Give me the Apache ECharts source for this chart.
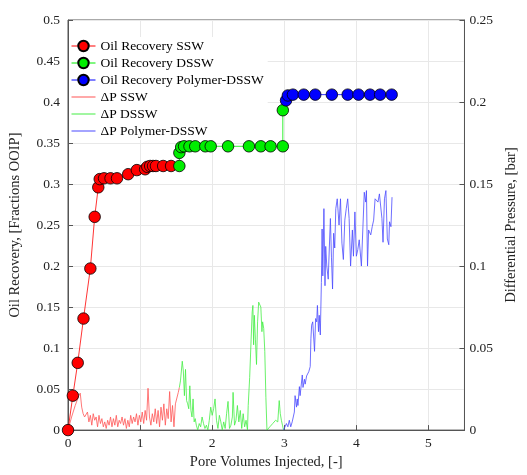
<!DOCTYPE html>
<html>
<head>
<meta charset="utf-8">
<script src="https://cdn.jsdelivr.net/npm/echarts@6/dist/echarts.min.js"></script>
<style>
  html, body { margin: 0; padding: 0; background: #fff; }
  #chart { width: 527px; height: 475px; }
</style>
</head>
<body>
<div id="chart"></div>
<script>
// oil recovery points [PV injected, fraction OOIP]
var recSSW = [[0, 0], [0.067, 0.042], [0.135, 0.082], [0.215, 0.136], [0.31, 0.197], [0.37, 0.26],
  [0.42, 0.296], [0.44, 0.306], [0.50, 0.307], [0.59, 0.307], [0.68, 0.307], [0.835, 0.312],
  [0.955, 0.317], [1.07, 0.318], [1.10, 0.321], [1.14, 0.322], [1.18, 0.322], [1.22, 0.322],
  [1.32, 0.322], [1.43, 0.322]];
var recDSSW = [[1.545, 0.322], [1.545, 0.338], [1.57, 0.345], [1.61, 0.346], [1.685, 0.346],
  [1.765, 0.346], [1.905, 0.346], [1.98, 0.346], [2.22, 0.346], [2.51, 0.346], [2.675, 0.346],
  [2.81, 0.346], [2.98, 0.346], [2.98, 0.39]];
var recPoly = [[3.025, 0.402], [3.05, 0.408], [3.12, 0.409], [3.27, 0.409], [3.43, 0.409],
  [3.66, 0.409], [3.88, 0.409], [4.03, 0.409], [4.19, 0.409], [4.33, 0.409], [4.49, 0.409]];

// differential pressure [PV injected, bar]
var dpSSW = [[0, 0], [0.05, 0.008], [0.10, 0.015], [0.15, 0.021], [0.17, 0.0225], [0.19, 0.014],
  [0.21, 0.010], [0.23, 0.008], [0.25, 0.0075], [0.27, 0.011], [0.29, 0.005], [0.31, 0.009],
  [0.33, 0.003], [0.35, 0.010], [0.37, 0.006], [0.39, 0.008], [0.41, 0.002], [0.43, 0.009],
  [0.45, 0.004], [0.47, 0.007], [0.49, 0.002], [0.51, 0.005], [0.53, 0.001], [0.55, 0.006],
  [0.57, 0.003], [0.59, 0.008], [0.61, 0.002], [0.63, 0.007], [0.65, 0.003], [0.67, 0.009],
  [0.69, 0.002], [0.71, 0.006], [0.73, 0.004], [0.75, 0.008], [0.77, 0.003], [0.79, 0.007],
  [0.81, 0.001], [0.83, 0.006], [0.85, 0.002], [0.87, 0.009], [0.89, 0.004], [0.91, 0.008],
  [0.93, 0.005], [0.95, 0.010], [0.97, 0.003], [0.99, 0.009], [1.01, 0.005], [1.03, 0.011],
  [1.05, 0.004], [1.07, 0.012], [1.09, 0.006], [1.11, 0.0255], [1.13, 0.008], [1.15, 0.003],
  [1.17, 0.010], [1.19, 0.005], [1.21, 0.013], [1.23, 0.004], [1.25, 0.012], [1.27, 0.002],
  [1.29, 0.014], [1.31, 0.006], [1.33, 0.016], [1.35, 0.003], [1.37, 0.013], [1.39, 0.007],
  [1.41, 0.0235], [1.43, 0.005], [1.45, 0.015], [1.47, 0.002], [1.49, 0.016], [1.51, 0.017],
  [1.53, 0.023], [1.545, 0.026]];
var dpDSSW = [[1.545, 0.026], [1.56, 0.030], [1.585, 0.042], [1.60, 0.036], [1.615, 0.021],
  [1.63, 0.037], [1.645, 0.018], [1.66, 0.016], [1.675, 0.013], [1.69, 0.027], [1.705, 0.012],
  [1.72, 0.008], [1.735, 0.019], [1.75, 0.005], [1.765, 0.007], [1.78, 0.003], [1.80, 0.000],
  [1.82, 0.004], [1.84, 0.002], [1.86, 0.008], [1.88, 0.004], [1.90, 0.001], [1.92, 0.003],
  [1.94, 0.000], [1.96, 0.006], [1.98, 0.014], [2.00, 0.009], [2.02, 0.013], [2.04, 0.019],
  [2.06, 0.006], [2.08, 0.001], [2.10, 0.009], [2.12, 0.005], [2.14, 0.000], [2.16, 0.005],
  [2.18, 0.001], [2.20, 0.010], [2.22, 0.0175], [2.24, 0.001], [2.26, 0.003], [2.28, 0.008],
  [2.29, 0.023], [2.31, 0.003], [2.33, 0.006], [2.35, 0.015], [2.37, 0.005], [2.39, 0.012],
  [2.41, 0.001], [2.43, 0.010], [2.45, 0.002], [2.47, 0.006], [2.49, 0.000], [2.50, 0.015],
  [2.52, 0.032], [2.54, 0.055], [2.555, 0.072], [2.565, 0.076], [2.575, 0.052], [2.585, 0.070],
  [2.60, 0.055], [2.615, 0.040], [2.63, 0.066], [2.645, 0.078], [2.66, 0.0787], [2.675, 0.075],
  [2.69, 0.060], [2.70, 0.066], [2.715, 0.062], [2.73, 0.048], [2.745, 0.020], [2.76, 0.000],
  [2.80, 0.002], [2.84, 0.004], [2.88, 0.006], [2.91, 0.005], [2.93, 0.018], [2.945, 0.010],
  [2.96, 0.006], [2.975, 0.003], [2.99, 0.000]];
var dpPoly = [[2.99, 0.000], [3.00, 0.001], [3.03, 0.004], [3.05, 0.002], [3.07, 0.006],
  [3.09, 0.002], [3.11, 0.005], [3.14, 0.011], [3.15, 0.021], [3.17, 0.014], [3.18, 0.019],
  [3.19, 0.015], [3.21, 0.0265], [3.22, 0.021], [3.25, 0.0336], [3.26, 0.026], [3.28, 0.031],
  [3.29, 0.028], [3.31, 0.033], [3.34, 0.0356], [3.36, 0.0387], [3.37, 0.056], [3.38, 0.064],
  [3.395, 0.066], [3.42, 0.048], [3.435, 0.068], [3.45, 0.066], [3.46, 0.076], [3.475, 0.060],
  [3.485, 0.070], [3.50, 0.058], [3.515, 0.090], [3.525, 0.1226], [3.535, 0.094], [3.55, 0.135],
  [3.565, 0.088], [3.575, 0.112], [3.59, 0.100], [3.61, 0.092], [3.625, 0.111], [3.64, 0.129],
  [3.655, 0.105], [3.67, 0.086], [3.685, 0.120], [3.70, 0.111], [3.715, 0.135], [3.735, 0.141],
  [3.76, 0.125], [3.78, 0.141], [3.80, 0.114], [3.82, 0.104], [3.84, 0.128], [3.86, 0.135],
  [3.88, 0.141], [3.90, 0.129], [3.92, 0.100], [3.945, 0.122], [3.96, 0.106], [3.98, 0.133],
  [4.00, 0.106], [4.02, 0.110], [4.04, 0.116], [4.07, 0.100], [4.09, 0.100], [4.11, 0.145],
  [4.13, 0.139], [4.14, 0.146], [4.155, 0.100], [4.17, 0.122], [4.20, 0.119], [4.22, 0.124],
  [4.24, 0.128], [4.26, 0.141], [4.28, 0.142], [4.30, 0.139], [4.32, 0.144], [4.34, 0.143],
  [4.355, 0.129], [4.37, 0.1145], [4.39, 0.141], [4.41, 0.146], [4.43, 0.1165], [4.45, 0.113],
  [4.46, 0.127], [4.48, 0.124], [4.495, 0.142]];

var font = 'Liberation Serif';
var axisCol = '#555';
// thin horizontal bar used as the legend icon of the pressure lines
var lineIcon = 'path://M0,0L0.01,0L0,0.01Z M0,6L24,6L24,7L0,7Z M24,13L23.99,13L24,12.99Z';

function recSeries(name, data, col) {
  return {
    name: name, type: 'line', data: data, yAxisIndex: 0, z: 5,
    symbol: 'circle', symbolSize: 11.5,
    lineStyle: { color: col, width: 0.8 },
    itemStyle: { color: col, borderColor: '#000', borderWidth: 0.8 }
  };
}
function dpSeries(name, data, col) {
  return {
    name: name, type: 'line', data: data, yAxisIndex: 1, z: 2,
    symbol: 'none',
    lineStyle: { color: col, width: 0.8 },
    itemStyle: { color: col }
  };
}

var chart = echarts.init(document.getElementById('chart'));
chart.setOption({
  animation: false,
  textStyle: { fontFamily: font },
  grid: { left: 66, right: 51, top: 20, bottom: 43, show: true, borderColor: axisCol, borderWidth: 1 },
  legend: {
    orient: 'vertical', left: 69, top: 37, itemGap: 3,
    itemWidth: 24, itemHeight: 13,
    backgroundColor: '#fff', padding: [2, 4, 2, 2],
    lineStyle: { width: 1 },
    textStyle: { fontFamily: font, fontSize: 13.5, color: '#000' },
    data: ['Oil Recovery SSW', 'Oil Recovery DSSW', 'Oil Recovery Polymer-DSSW',
      { name: '\u0394P SSW', icon: lineIcon },
      { name: '\u0394P DSSW', icon: lineIcon },
      { name: '\u0394P Polymer-DSSW', icon: lineIcon }]
  },
  xAxis: {
    type: 'value', min: 0, max: 5.5, interval: 1,
    name: 'Pore Volumes Injected, [-]', nameLocation: 'middle', nameGap: 23,
    nameTextStyle: { fontFamily: font, fontSize: 14.5, color: '#222' },
    axisLine: { lineStyle: { color: axisCol } },
    axisTick: { inside: true, length: 5, lineStyle: { color: axisCol } },
    axisLabel: { fontFamily: font, fontSize: 13.5, color: '#222', margin: 6,
      formatter: function (v) { return v % 1 === 0 ? String(v) : ''; } },
    splitLine: { show: true, lineStyle: { color: '#e8e8e8' } }
  },
  yAxis: [{
    type: 'value', min: 0, max: 0.5, interval: 0.05,
    name: 'Oil Recovery, [Fractions OOIP]', nameLocation: 'middle', nameGap: 45,
    nameTextStyle: { fontFamily: font, fontSize: 14.5, color: '#222' },
    axisLine: { show: true, lineStyle: { color: axisCol } },
    axisTick: { show: true, inside: true, length: 5, lineStyle: { color: axisCol } },
    axisLabel: { fontFamily: font, fontSize: 13.5, color: '#222', margin: 8,
      formatter: function (v) { return String(+v.toFixed(2)); } },
    splitLine: { show: true, lineStyle: { color: '#e8e8e8' } }
  }, {
    type: 'value', min: 0, max: 0.25, interval: 0.05, position: 'right',
    name: 'Differential Pressure, [bar]', nameLocation: 'middle', nameGap: 38,
    nameRotate: 90,
    nameTextStyle: { fontFamily: font, fontSize: 14.5, color: '#222' },
    axisLine: { show: true, lineStyle: { color: axisCol } },
    axisTick: { show: true, inside: true, length: 5, lineStyle: { color: axisCol } },
    axisLabel: { fontFamily: font, fontSize: 13.5, color: '#222', margin: 5,
      formatter: function (v) { return String(+v.toFixed(2)); } },
    splitLine: { show: false }
  }],
  series: [
    recSeries('Oil Recovery SSW', recSSW, '#ff0000'),
    recSeries('Oil Recovery DSSW', recDSSW, '#00ee00'),
    recSeries('Oil Recovery Polymer-DSSW', recPoly, '#0000ff'),
    dpSeries('\u0394P SSW', dpSSW, '#ff5555'),
    dpSeries('\u0394P DSSW', dpDSSW, '#44ee44'),
    dpSeries('\u0394P Polymer-DSSW', dpPoly, '#4a4aff')
  ]
});
</script>
</body>
</html>
